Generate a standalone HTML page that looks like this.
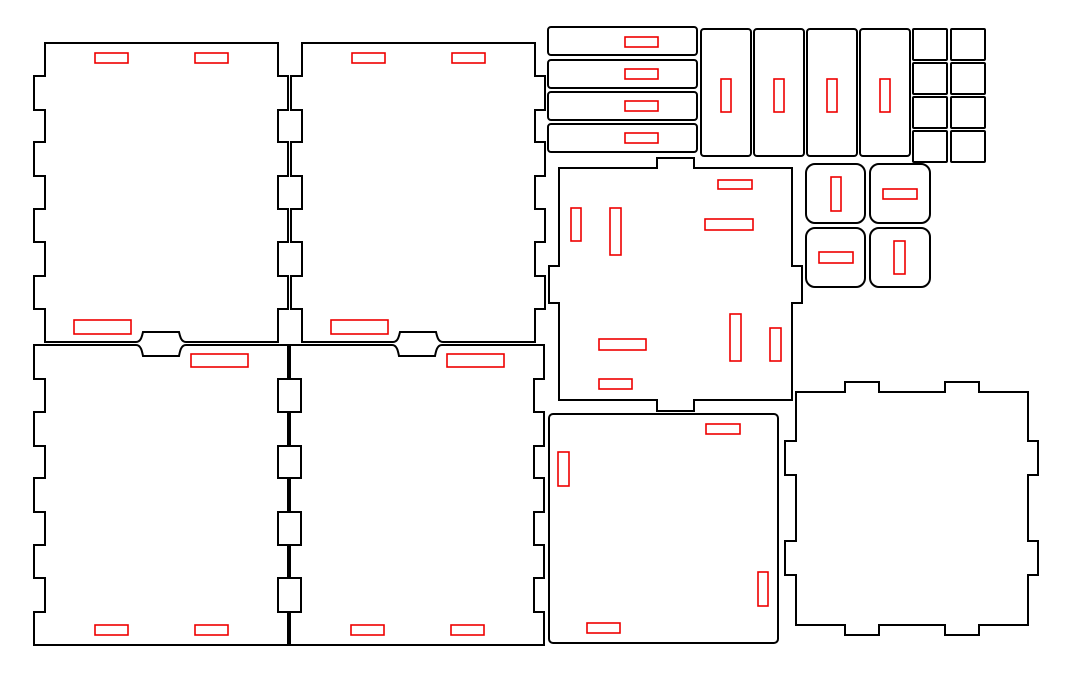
<!DOCTYPE html>
<html><head><meta charset="utf-8"><style>
html,body{margin:0;padding:0;background:#fff;}
svg{display:block;}
.k{fill:none;stroke:#000;stroke-width:2;stroke-linejoin:miter;}
.r{fill:none;stroke:#e00;stroke-width:1.6;}
</style></head><body>
<svg width="1080" height="675" viewBox="0 0 1080 675" xmlns="http://www.w3.org/2000/svg">
<defs>
<path id="pt" d="M45,43 H278 V76 H288 V110 H278 V142 H288 V176 H278 V209 H288 V242 H278 V276 H288 V309 H278 V342 H186 C181,342 180,336 179,332 H143 C142,336 141,342 136,342 H45 V309 H34 V276 H45 V242 H34 V209 H45 V176 H34 V142 H45 V110 H34 V76 H45 Z"/>
<path id="pb" d="M34,345 H136 C141,345 142,351 143,356 H179 C180,351 181,345 186,345 H288 V379 H278 V412 H288 V446 H278 V478 H288 V512 H278 V545 H288 V578 H278 V612 H288 V645 H34 V612 H45 V578 H34 V545 H45 V512 H34 V478 H45 V446 H34 V412 H45 V379 H34 Z"/>
</defs>
<use href="#pt" class="k"/>
<use href="#pt" class="k" transform="translate(257,0)"/>
<use href="#pb" class="k"/>
<use href="#pb" class="k" transform="translate(256,0)"/>
<!-- red slots big panels -->
<rect class="r" x="95" y="53" width="33" height="10"/>
<rect class="r" x="195" y="53" width="33" height="10"/>
<rect class="r" x="74" y="320" width="57" height="14"/>
<rect class="r" x="352" y="53" width="33" height="10"/>
<rect class="r" x="452" y="53" width="33" height="10"/>
<rect class="r" x="331" y="320" width="57" height="14"/>
<rect class="r" x="191" y="354" width="57" height="13"/>
<rect class="r" x="95" y="625" width="33" height="10"/>
<rect class="r" x="195" y="625" width="33" height="10"/>
<rect class="r" x="447" y="354" width="57" height="13"/>
<rect class="r" x="351" y="625" width="33" height="10"/>
<rect class="r" x="451" y="625" width="33" height="10"/>
<!-- strips -->
<rect class="k" x="548" y="27" width="149" height="28" rx="3"/>
<rect class="k" x="548" y="60" width="149" height="28" rx="3"/>
<rect class="k" x="548" y="92" width="149" height="28" rx="3"/>
<rect class="k" x="548" y="124" width="149" height="28" rx="3"/>
<rect class="r" x="625" y="37" width="33" height="10"/>
<rect class="r" x="625" y="69" width="33" height="10"/>
<rect class="r" x="625" y="101" width="33" height="10"/>
<rect class="r" x="625" y="133" width="33" height="10"/>
<!-- tall pieces -->
<rect class="k" x="701" y="29" width="50" height="127" rx="3"/>
<rect class="k" x="754" y="29" width="50" height="127" rx="3"/>
<rect class="k" x="807" y="29" width="50" height="127" rx="3"/>
<rect class="k" x="860" y="29" width="50" height="127" rx="3"/>
<rect class="r" x="721" y="79" width="10" height="33"/>
<rect class="r" x="774" y="79" width="10" height="33"/>
<rect class="r" x="827" y="79" width="10" height="33"/>
<rect class="r" x="880" y="79" width="10" height="33"/>
<!-- small squares -->
<rect class="k" x="913" y="29" width="34" height="31" rx="1"/>
<rect class="k" x="951" y="29" width="34" height="31" rx="1"/>
<rect class="k" x="913" y="63" width="34" height="31" rx="1"/>
<rect class="k" x="951" y="63" width="34" height="31" rx="1"/>
<rect class="k" x="913" y="97" width="34" height="31" rx="1"/>
<rect class="k" x="951" y="97" width="34" height="31" rx="1"/>
<rect class="k" x="913" y="131" width="34" height="31" rx="1"/>
<rect class="k" x="951" y="131" width="34" height="31" rx="1"/>
<!-- middle panel -->
<path class="k" d="M559,168 H657 V158 H694 V168 H792 V266 H802 V303 H792 V400 H694 V411 H657 V400 H559 V303 H549 V266 H559 Z"/>
<rect class="r" x="718" y="180" width="34" height="9"/>
<rect class="r" x="705" y="219" width="48" height="11"/>
<rect class="r" x="571" y="208" width="10" height="33"/>
<rect class="r" x="610" y="208" width="11" height="47"/>
<rect class="r" x="599" y="339" width="47" height="11"/>
<rect class="r" x="599" y="379" width="33" height="10"/>
<rect class="r" x="730" y="314" width="11" height="47"/>
<rect class="r" x="770" y="328" width="11" height="33"/>
<!-- rounded squares -->
<rect class="k" x="806" y="164" width="59" height="59" rx="9"/>
<rect class="k" x="870" y="164" width="60" height="59" rx="9"/>
<rect class="k" x="806" y="228" width="59" height="59" rx="9"/>
<rect class="k" x="870" y="228" width="60" height="59" rx="9"/>
<rect class="r" x="831" y="177" width="10" height="34"/>
<rect class="r" x="883" y="189" width="34" height="10"/>
<rect class="r" x="819" y="252" width="34" height="11"/>
<rect class="r" x="894" y="241" width="11" height="33"/>
<!-- lower middle panel -->
<rect class="k" x="549" y="414" width="229" height="229" rx="4"/>
<rect class="r" x="706" y="424" width="34" height="10"/>
<rect class="r" x="558" y="452" width="11" height="34"/>
<rect class="r" x="758" y="572" width="10" height="34"/>
<rect class="r" x="587" y="623" width="33" height="10"/>
<!-- right tabbed panel -->
<path class="k" d="M796,392 H845 V382 H879 V392 H945 V382 H979 V392 H1028 V441 H1038 V475 H1028 V541 H1038 V575 H1028 V625 H979 V635 H945 V625 H879 V635 H845 V625 H796 V575 H785 V541 H796 V475 H785 V441 H796 Z"/>
</svg>
</body></html>
